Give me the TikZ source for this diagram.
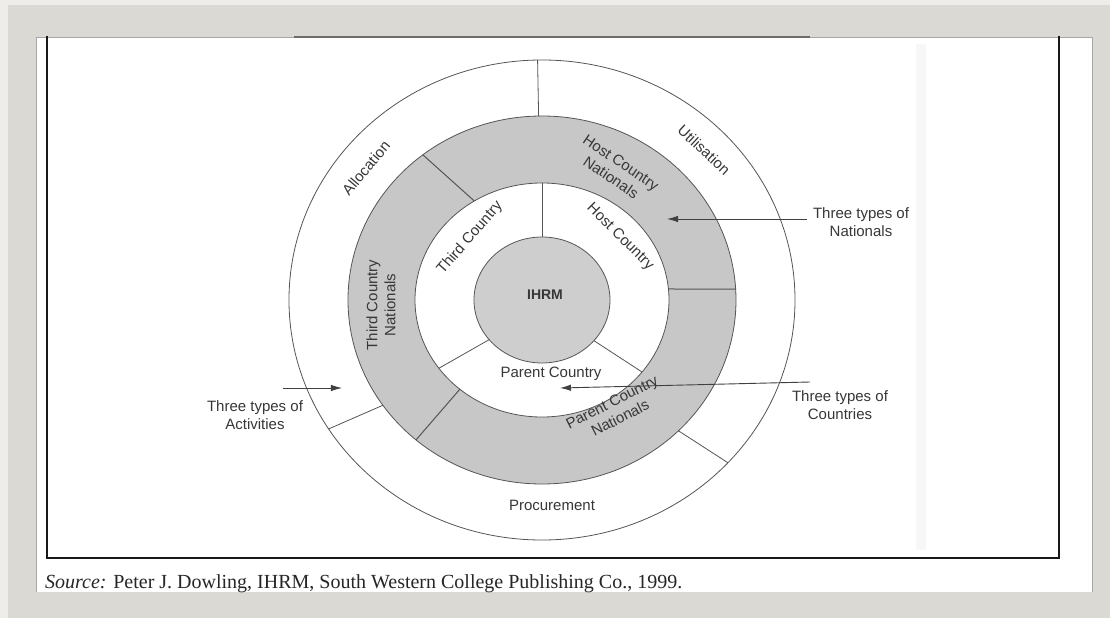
\documentclass[tikz,border=0pt]{standalone}
\usepackage{fontspec}
\setmainfont{Liberation Serif}
\newfontfamily\sansfig{Liberation Sans}
\usetikzlibrary{arrows.meta}

\definecolor{ringgray}{RGB}{199,199,199}
\definecolor{coregray}{RGB}{206,206,206}
\definecolor{inkline}{RGB}{85,85,85}
\definecolor{inktext}{RGB}{55,55,55}
\definecolor{pagegray}{RGB}{219,217,211}
\definecolor{pageedge}{RGB}{238,237,234}

\begin{document}
\begin{tikzpicture}[x=1pt,y=1pt,
		lbl/.style={font=\sansfig\fontsize{15}{18}\selectfont, text=inktext, align=center, inner sep=0pt},
		ringline/.style={draw=inkline, line width=0.8pt},
		pointer/.style={draw=black!75, line width=0.9pt, -{Latex[length=11pt,width=6.5pt]}}
	]
	\useasboundingbox (-542,-318) rectangle (568,300);
	
	% page and frame
	\fill[pageedge] (-542,-318) rectangle (568,300);
	\fill[pagegray] (-534,-318) rectangle (568,295);
	\fill[white] (-506,-292) rectangle (550,263);
	\draw[gray!70, line width=0.8pt] (-506,-292) -- (-506,263) -- (550,263) -- (550,-292);
	\fill[black!3] (374,256) rectangle (384,-250);
	\draw[black!90, line width=1.3pt] (-495,264) -- (-495,-258) -- (517,-258) -- (517,264);
	\draw[gray!85!black, line width=2.5pt] (-248,263) -- (268,263);
	
	% rings
	\filldraw[fill=white, ringline] (0,0) ellipse [x radius=253, y radius=240];
	\filldraw[fill=ringgray, ringline] (0,0) ellipse [x radius=194, y radius=184];
	\filldraw[fill=white, ringline] (0,0) ellipse [x radius=127, y radius=117];
	\filldraw[fill=coregray, ringline] (0,0) ellipse [x radius=68, y radius=63];
	
	\draw[ringline] (91:194 and 184) -- (91:253 and 240);
	\draw[ringline] (212.5:253 and 240) -- (214.9:194 and 184);
	\draw[ringline] (-42.7:253 and 240) -- (-45.3:194 and 184);
	
	\draw[ringline, line width=1pt] (127.9:194 and 184) -- (122.2:127 and 117);
	\draw[ringline, line width=1pt] (3.4:194 and 184) -- (5.4:127 and 117);
	\draw[ringline, line width=1pt] (229.5:194 and 184) -- (229.7:127 and 117);
	
	\draw[ringline] (90:127 and 117) -- (90:68 and 63);
	\draw[ringline] (215.7:127 and 117) -- (219:68 and 63);
	\draw[ringline] (-38:127 and 117) -- (-40.2:68 and 63);
	
	% labels
	\node[lbl, rotate=50] (alloc) at (-176,132) {Allocation};
	\node[lbl, rotate=-43] (util) at (162,150) {Utilisation};
	\node[lbl] (proc) at (10,-205) {Procurement};
	
	\node[lbl, rotate=-34] (hcn) at (74,130) {Host Country\\Nationals};
	\node[lbl, rotate=90] (tcn) at (-161,-5) {Third Country\\Nationals};
	\node[lbl, rotate=27] (pcn) at (74,-110) {Parent Country\\Nationals};
	
	\node[lbl, rotate=-45] (hc) at (78,63) {Host Country};
	\node[lbl, rotate=49] (tc) at (-72,62) {Third Country};
	\node[lbl] (pc) at (9,-74) {Parent Country};
	
	\node[lbl, font=\sansfig\bfseries\fontsize{14}{16}\selectfont] (ihrm) at (3,5) {IHRM};
	
	\node[lbl] (natl) at (319,78) {Three types of\\Nationals};
	\node[lbl] (ctry) at (298,-105) {Three types of\\Countries};
	\node[lbl] (actv) at (-287,-115) {Three types of\\Activities};
	
	\coordinate (natfrom) at (265,81);
	\coordinate (natto) at (125,81);
	\coordinate (ctryfrom) at (268,-82);
	\coordinate (ctryto) at (18,-88);
	\coordinate (actvfrom) at (-259,-88);
	\coordinate (actvto) at (-200,-88);
	\draw[pointer] (natfrom) -- (natto);
	\draw[pointer] (ctryfrom) -- (ctryto);
	\draw[pointer] (actvfrom) -- (actvto);
	
	\node[anchor=base west, inner sep=0pt, font=\fontsize{20}{23}\selectfont, text=black!85] (src) at (-497,-288) {\textit{Source:} Peter J. Dowling, IHRM, South Western College Publishing Co., 1999.};
\end{tikzpicture}
\end{document}
